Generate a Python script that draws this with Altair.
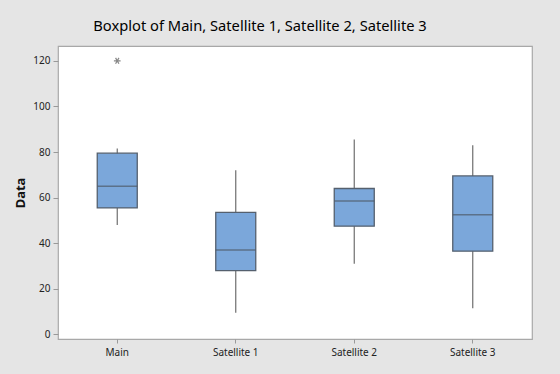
import altair as alt
import pandas as pd

groups = ["Main", "Satellite 1", "Satellite 2", "Satellite 3"]
whisker_low = [48.0, 9.5, 31.0, 11.5]
q1 = [55.5, 28.0, 47.5, 36.5]
median = [65.0, 37.0, 58.5, 52.5]
q3 = [79.5, 53.5, 64.0, 69.5]
whisker_high = [81.5, 72.0, 85.5, 83.0]

outlier_groups = ["Main"]
outlier_values = [120.0]

df = pd.DataFrame({
    "group": groups, "lo": whisker_low, "q1": q1, "med": median,
    "q3": q3, "hi": whisker_high,
})
dfo = pd.DataFrame({"group": outlier_groups, "value": outlier_values})

FONT = "Noto Sans"
x = alt.X("group:N", sort=groups, title=None,
          scale=alt.Scale(paddingInner=0, paddingOuter=0),
          axis=alt.Axis(labelAngle=0, labelFontSize=10, labelColor="#222",
                        labelFont=FONT, tickSize=4, tickColor="#999",
                        domain=False, labelPadding=4))
yscale = alt.Scale(domain=[-2, 126.5], nice=False, zero=False)
yaxis = alt.Axis(values=[0, 20, 40, 60, 80, 100, 120], grid=False, domain=False,
                 tickSize=5, tickColor="#999", labelFontSize=10, labelColor="#222",
                 labelFont=FONT, labelPadding=3, title="Data", titleFontSize=13,
                 titleFont=FONT, titleFontWeight="bold", titleColor="#111",
                 titlePadding=5)

base = alt.Chart(df)
whisk = base.mark_rule(color="#6E6E6E", strokeWidth=1.2).encode(
    x=x, y=alt.Y("lo:Q", scale=yscale, axis=yaxis), y2="hi:Q")
box = base.mark_bar(size=40, fill="#7BA7DA", stroke="#55606E", strokeWidth=1.3).encode(
    x=x, y=alt.Y("q1:Q", scale=yscale), y2="q3:Q")
med = base.mark_tick(size=40, thickness=1.5, color="#4F5A68").encode(
    x=x, y=alt.Y("med:Q", scale=yscale))
star = "M-1,0L1,0M-0.5,-0.87L0.5,0.87M-0.5,0.87L0.5,-0.87"
out = alt.Chart(dfo).mark_point(shape=star, size=45, stroke="#555", strokeWidth=1.2,
                                filled=False).encode(
    x=alt.X("group:N", sort=groups), y=alt.Y("value:Q", scale=yscale))

chart = alt.layer(whisk, box, med, out).properties(
    width=474, height=293,
    autosize=alt.AutoSizeParams(type="none"),
    padding={"left": 58, "top": 46, "right": 28, "bottom": 35},
    background="#E5E5E5",
    title=alt.TitleParams("Boxplot of Main, Satellite 1, Satellite 2, Satellite 3",
                          fontSize=14.7, font=FONT, fontWeight="normal", color="#000",
                          anchor="middle", dx=-35, offset=12),
).configure_view(fill="white", stroke="#A8A8A8", strokeWidth=1.2)

chart.save("out.html", embed_options={"renderer": "svg", "actions": False})
